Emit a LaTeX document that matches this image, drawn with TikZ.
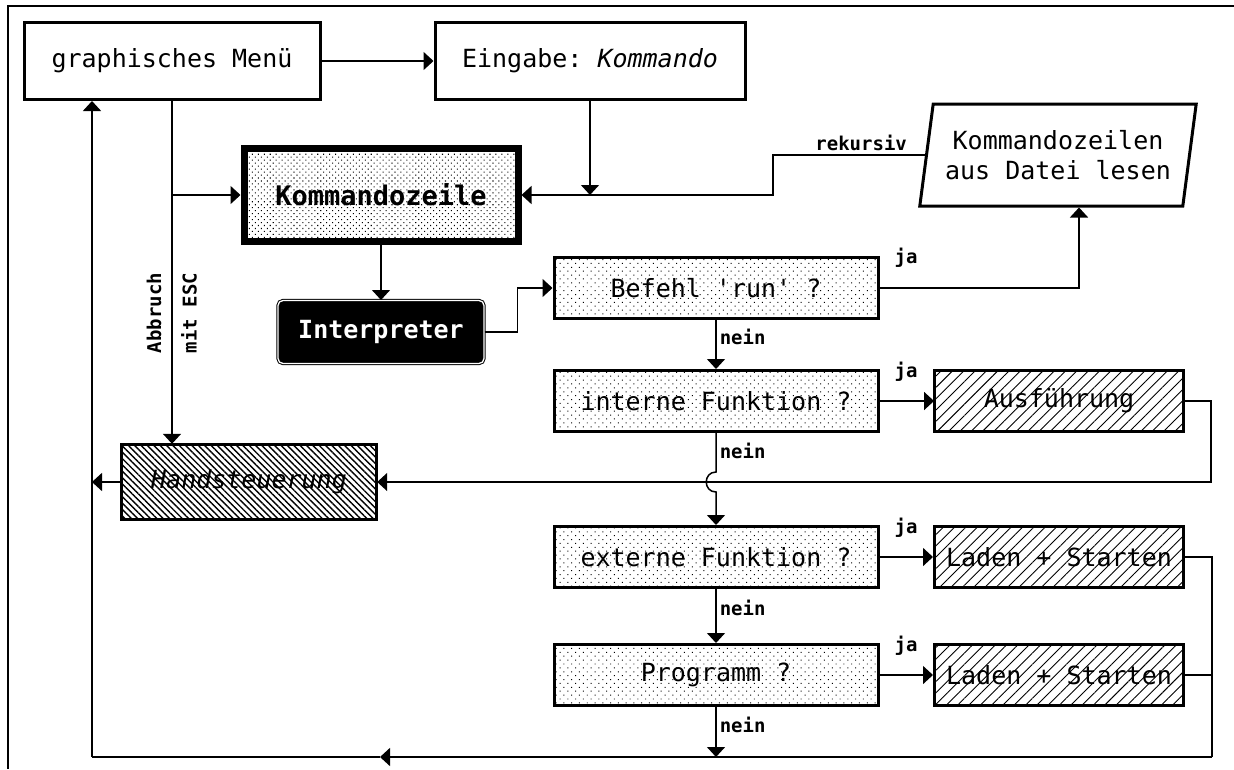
\documentclass[tikz,border=0pt]{standalone}
\usepackage{fontspec}
\setmonofont{DejaVu Sans Mono}
\usetikzlibrary{arrows.meta,positioning,shapes.geometric,patterns.meta}
\tikzset{
  box/.style={draw,line width=3pt,align=center,inner sep=2pt,font=\fontsize{25}{30}\selectfont\ttfamily},
  menubox/.style={box,minimum width=296pt,minimum height=77pt},
  zeilebox/.style={box,line width=7pt,minimum width=274pt,minimum height=93pt,pattern={Dots[distance=4.2pt,angle=45,radius=.75pt]},font=\fontsize{27}{30}\selectfont\ttfamily\bfseries},
  dateibox/.style={box,trapezium,trapezium left angle=77,trapezium right angle=103,trapezium stretches=true,minimum width=277pt,minimum height=102pt},
  interpbox/.style={box,line width=1pt,draw=black,double=white,double distance=1.3pt,fill=black,rounded corners=5pt,minimum width=206pt,minimum height=63pt,text=white,font=\fontsize{25}{30}\selectfont\ttfamily\bfseries},
  frage/.style={box,minimum width=324pt,minimum height=61pt,pattern={Dots[distance=5.5pt,angle=45,radius=.7pt]}},
  aktion/.style={box,minimum width=249pt,minimum height=61pt,pattern={Lines[distance=8pt,angle=45,line width=.9pt]}},
  handbox/.style={box,minimum width=255pt,minimum height=75pt,pattern={Lines[distance=4.5pt,angle=-45,line width=1.4pt]},font=\fontsize{25}{30}\selectfont\ttfamily\itshape},
  arrow/.style={-{Triangle[length=10pt,width=18pt]},line width=1.5pt},
  conn/.style={line width=1.5pt},
  lbl/.style={font=\fontsize{19}{20}\selectfont\ttfamily\bfseries,inner sep=3pt}
}
\begin{document}
\begin{tikzpicture}[x=1pt,y=-1pt]
  \useasboundingbox (0,0) rectangle (1234,769);
  \draw[line width=2pt] (1234,6) -- (8,6) -- (8,769);

  % Eingabe oben
  \node[menubox] (menu) at (172,61) {graphisches Menü};
  \node[menubox,minimum width=310pt] (eingabe) at (590,61) {Eingabe: {\itshape Kommando}};
  \node[zeilebox] (kzeile) at (381,195) {Kommandozeile};
  \node[dateibox] (datei) at (1058,155) {Kommandozeilen\\aus Datei lesen};
  \node[interpbox] (interp) at (381,332) {Interpreter};

  % Abfragen
  \node[frage] (befehl) at (716,288) {Befehl 'run' ?};
  \node[frage] (intern) at (716,401) {interne Funktion ?};
  \node[frage] (extern) at (716,557) {externe Funktion ?};
  \node[frage] (prog) at (716,675) {Programm ?};

  % Aktionen
  \node[aktion] (ausf) at (1059,401) {Ausführung};
  \node[aktion] (laden1) at (1059,557) {Laden + Starten};
  \node[aktion] (laden2) at (1059,675) {Laden + Starten};
  \node[handbox] (hand) at (249,482) {Handsteuerung};

  \coordinate (ecke) at (92,757);
  \coordinate (rechts) at (1212,757);
  \coordinate (spitze) at (380,757);
  \coordinate (hop) at (intern.south |- hand.east);

  % Verbindungen
  \draw[arrow] (menu) -- (eingabe);
  \draw[arrow] (menu.south) -- (menu.south |- hand.north);
  \draw[arrow] (menu.south |- kzeile.west) -- (kzeile.west);
  \node[lbl,rotate=90] (abbruch) at (154,313) {Abbruch};
  \node[lbl,rotate=90] (esc) at (189,313) {mit ESC};
  \draw[arrow] (eingabe.south) -- (eingabe.south |- kzeile.east);
  \draw[arrow] (datei.west) -- node[lbl,above,pos=.42] (rek) {rekursiv} ++(-152,0) |- (kzeile.east);
  \draw[arrow] (kzeile) -- (interp);
  \draw[arrow] (interp.east) -- ++(33,0) |- (befehl.west);

  \draw[arrow] (befehl.east) -| ([xshift=21pt]datei.south);
  \node[lbl] (ja1) at (906,258) {ja};
  \draw[arrow] (befehl) -- node[lbl,right,pos=.35] (nein1) {nein} (intern);

  \draw[arrow] (intern) -- (ausf);
  \node[lbl] (ja2) at (906,372) {ja};
  \draw[arrow] (ausf.east) -- ++(27,0) |- (hand.east);
  \draw[arrow] (hand.west) -- (hand.west -| ecke);
  \draw[arrow] (intern.south) -- node[lbl,right,pos=.45] (nein2) {nein} ([yshift=10pt]hop)
    .. controls +(-13,0) and +(-13,0) .. ([yshift=-10pt]hop) -- (extern.north);

  \draw[arrow] (extern) -- (laden1);
  \node[lbl] (ja3) at (906,528) {ja};
  \draw[arrow] (extern) -- node[lbl,right,pos=.35] (nein3) {nein} (prog);
  \draw[arrow] (prog) -- (laden2);
  \node[lbl] (ja4) at (906,646) {ja};
  \draw[arrow] (prog.south) -- node[lbl,right,pos=.35] (nein4) {nein} (prog.south |- ecke);

  % Rueckweg
  \draw[conn] (laden1.east) -- (laden1.east -| rechts) -- (rechts);
  \draw[conn] (laden2.east) -- (laden2.east -| rechts);
  \draw[arrow] (rechts) -- (spitze);
  \draw[conn] (spitze) -- (ecke);
  \draw[arrow] (ecke) -- (ecke |- menu.south);
\end{tikzpicture}
\end{document}
